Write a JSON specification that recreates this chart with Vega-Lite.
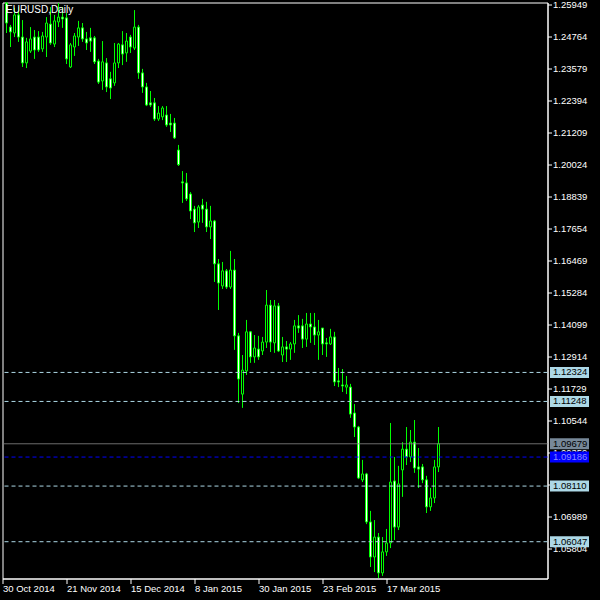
{
  "$schema": "https://vega.github.io/schema/vega-lite/v6.json",
  "width": 545,
  "height": 576,
  "autosize": {"type": "none"},
  "padding": {"left": 2.5, "top": 2.5, "right": 52.5, "bottom": 21.5},
  "background": "#000000",
  "config": {
    "view": {"stroke": "#FFFFFF", "strokeWidth": 1},
    "axis": {"labelOverlap": false, "labelBound": false, "labelFlush": false, "labelSeparation": 0, "grid": false},
    "scale": {"continuousPadding": 0}
  },
  "datasets": {
    "candles": [
      {"i":1,"open":1.2602,"high":1.2606,"low":1.2491,"close":1.2528},
      {"i":2,"open":1.2513,"high":1.2521,"low":1.2439,"close":1.2495},
      {"i":3,"open":1.2491,"high":1.2584,"low":1.2476,"close":1.2558},
      {"i":4,"open":1.2558,"high":1.2587,"low":1.2458,"close":1.2476},
      {"i":5,"open":1.2476,"high":1.2539,"low":1.2365,"close":1.2380},
      {"i":6,"open":1.2380,"high":1.2473,"low":1.2361,"close":1.2458},
      {"i":7,"open":1.2424,"high":1.2513,"low":1.2417,"close":1.2469},
      {"i":8,"open":1.2476,"high":1.2502,"low":1.2395,"close":1.2428},
      {"i":9,"open":1.2476,"high":1.2498,"low":1.2421,"close":1.2428},
      {"i":10,"open":1.2432,"high":1.2495,"low":1.2421,"close":1.2480},
      {"i":11,"open":1.2476,"high":1.2550,"low":1.2402,"close":1.2528},
      {"i":12,"open":1.2524,"high":1.2587,"low":1.2447,"close":1.2454},
      {"i":13,"open":1.2450,"high":1.2558,"low":1.2439,"close":1.2536},
      {"i":14,"open":1.2532,"high":1.2602,"low":1.2513,"close":1.2550},
      {"i":15,"open":1.2550,"high":1.2587,"low":1.2510,"close":1.2543},
      {"i":16,"open":1.2547,"high":1.2565,"low":1.2376,"close":1.2395},
      {"i":17,"open":1.2365,"high":1.2454,"low":1.2361,"close":1.2447},
      {"i":18,"open":1.2439,"high":1.2491,"low":1.2406,"close":1.2480},
      {"i":19,"open":1.2476,"high":1.2536,"low":1.2443,"close":1.2510},
      {"i":20,"open":1.2510,"high":1.2528,"low":1.2458,"close":1.2469},
      {"i":21,"open":1.2469,"high":1.2495,"low":1.2428,"close":1.2454},
      {"i":22,"open":1.2473,"high":1.2510,"low":1.2421,"close":1.2461},
      {"i":23,"open":1.2473,"high":1.2480,"low":1.2376,"close":1.2384},
      {"i":24,"open":1.2387,"high":1.2395,"low":1.2302,"close":1.2309},
      {"i":25,"open":1.2313,"high":1.2461,"low":1.2280,"close":1.2384},
      {"i":26,"open":1.2380,"high":1.2398,"low":1.2272,"close":1.2291},
      {"i":27,"open":1.2321,"high":1.2347,"low":1.2246,"close":1.2287},
      {"i":28,"open":1.2306,"high":1.2454,"low":1.2295,"close":1.2380},
      {"i":29,"open":1.2380,"high":1.2454,"low":1.2361,"close":1.2450},
      {"i":30,"open":1.2447,"high":1.2498,"low":1.2372,"close":1.2413},
      {"i":31,"open":1.2417,"high":1.2491,"low":1.2384,"close":1.2461},
      {"i":32,"open":1.2476,"high":1.2484,"low":1.2417,"close":1.2439},
      {"i":33,"open":1.2435,"high":1.2576,"low":1.2428,"close":1.2513},
      {"i":34,"open":1.2513,"high":1.2521,"low":1.2321,"close":1.2343},
      {"i":35,"open":1.2343,"high":1.2358,"low":1.2269,"close":1.2291},
      {"i":36,"open":1.2291,"high":1.2306,"low":1.2220,"close":1.2224},
      {"i":37,"open":1.2232,"high":1.2276,"low":1.2217,"close":1.2224},
      {"i":38,"open":1.2232,"high":1.2250,"low":1.2165,"close":1.2172},
      {"i":39,"open":1.2172,"high":1.2220,"low":1.2165,"close":1.2194},
      {"i":40,"open":1.2180,"high":1.2220,"low":1.2168,"close":1.2213},
      {"i":41,"open":1.2187,"high":1.2220,"low":1.2143,"close":1.2150},
      {"i":42,"open":1.2157,"high":1.2191,"low":1.2124,"close":1.2150},
      {"i":43,"open":1.2157,"high":1.2176,"low":1.2098,"close":1.2102},
      {"i":44,"open":1.2057,"high":1.2076,"low":1.1998,"close":1.2003},
      {"i":45,"open":1.1939,"high":1.1979,"low":1.1861,"close":1.1935},
      {"i":46,"open":1.1935,"high":1.1972,"low":1.1868,"close":1.1876},
      {"i":47,"open":1.1894,"high":1.1901,"low":1.1801,"close":1.1831},
      {"i":48,"open":1.1838,"high":1.1850,"low":1.1753,"close":1.1787},
      {"i":49,"open":1.1790,"high":1.1853,"low":1.1768,"close":1.1846},
      {"i":50,"open":1.1853,"high":1.1876,"low":1.1787,"close":1.1838},
      {"i":51,"open":1.1838,"high":1.1865,"low":1.1753,"close":1.1772},
      {"i":52,"open":1.1772,"high":1.1850,"low":1.1727,"close":1.1794},
      {"i":53,"open":1.1794,"high":1.1798,"low":1.1568,"close":1.1635},
      {"i":54,"open":1.1635,"high":1.1653,"low":1.1464,"close":1.1564},
      {"i":55,"open":1.1553,"high":1.1642,"low":1.1542,"close":1.1609},
      {"i":56,"open":1.1609,"high":1.1616,"low":1.1542,"close":1.1549},
      {"i":57,"open":1.1549,"high":1.1683,"low":1.1542,"close":1.1612},
      {"i":58,"open":1.1612,"high":1.1653,"low":1.1316,"close":1.1368},
      {"i":59,"open":1.1368,"high":1.1379,"low":1.1119,"close":1.1208},
      {"i":60,"open":1.1152,"high":1.1297,"low":1.1101,"close":1.1241},
      {"i":61,"open":1.1238,"high":1.1427,"low":1.1223,"close":1.1383},
      {"i":62,"open":1.1383,"high":1.1386,"low":1.1268,"close":1.1290},
      {"i":63,"open":1.1290,"high":1.1371,"low":1.1268,"close":1.1323},
      {"i":64,"open":1.1319,"high":1.1368,"low":1.1279,"close":1.1290},
      {"i":65,"open":1.1312,"high":1.1364,"low":1.1297,"close":1.1345},
      {"i":66,"open":1.1345,"high":1.1538,"low":1.1323,"close":1.1482},
      {"i":67,"open":1.1482,"high":1.1501,"low":1.1308,"close":1.1345},
      {"i":68,"open":1.1342,"high":1.1501,"low":1.1305,"close":1.1479},
      {"i":69,"open":1.1479,"high":1.1490,"low":1.1308,"close":1.1312},
      {"i":70,"open":1.1297,"high":1.1364,"low":1.1271,"close":1.1327},
      {"i":71,"open":1.1327,"high":1.1349,"low":1.1271,"close":1.1319},
      {"i":72,"open":1.1319,"high":1.1345,"low":1.1279,"close":1.1338},
      {"i":73,"open":1.1338,"high":1.1427,"low":1.1305,"close":1.1405},
      {"i":74,"open":1.1405,"high":1.1445,"low":1.1379,"close":1.1397},
      {"i":75,"open":1.1405,"high":1.1431,"low":1.1323,"close":1.1356},
      {"i":76,"open":1.1356,"high":1.1453,"low":1.1327,"close":1.1412},
      {"i":77,"open":1.1412,"high":1.1453,"low":1.1342,"close":1.1401},
      {"i":78,"open":1.1401,"high":1.1453,"low":1.1334,"close":1.1371},
      {"i":79,"open":1.1371,"high":1.1427,"low":1.1279,"close":1.1383},
      {"i":80,"open":1.1397,"high":1.1397,"low":1.1297,"close":1.1338},
      {"i":81,"open":1.1342,"high":1.1360,"low":1.1290,"close":1.1338},
      {"i":82,"open":1.1338,"high":1.1394,"low":1.1334,"close":1.1364},
      {"i":83,"open":1.1364,"high":1.1383,"low":1.1182,"close":1.1197},
      {"i":84,"open":1.1201,"high":1.1249,"low":1.1178,"close":1.1197},
      {"i":85,"open":1.1186,"high":1.1245,"low":1.1160,"close":1.1182},
      {"i":86,"open":1.1178,"high":1.1219,"low":1.1152,"close":1.1186},
      {"i":87,"open":1.1178,"high":1.1190,"low":1.1064,"close":1.1078},
      {"i":88,"open":1.1082,"high":1.1115,"low":1.0993,"close":1.1030},
      {"i":89,"open":1.1030,"high":1.1034,"low":1.0837,"close":1.0841},
      {"i":90,"open":1.0834,"high":1.0908,"low":1.0826,"close":1.0856},
      {"i":91,"open":1.0856,"high":1.0860,"low":1.0670,"close":1.0678},
      {"i":92,"open":1.0678,"high":1.0719,"low":1.0511,"close":1.0548},
      {"i":93,"open":1.0548,"high":1.0685,"low":1.0492,"close":1.0622},
      {"i":94,"open":1.0622,"high":1.0637,"low":1.0470,"close":1.0489},
      {"i":95,"open":1.0489,"high":1.0622,"low":1.0478,"close":1.0567},
      {"i":96,"open":1.0567,"high":1.0652,"low":1.0552,"close":1.0600},
      {"i":97,"open":1.0600,"high":1.1045,"low":1.0581,"close":1.0826},
      {"i":98,"open":1.0830,"high":1.0919,"low":1.0611,"close":1.0659},
      {"i":99,"open":1.0659,"high":1.0886,"low":1.0648,"close":1.0819},
      {"i":100,"open":1.0871,"high":1.0974,"low":1.0771,"close":1.0948},
      {"i":101,"open":1.0948,"high":1.1030,"low":1.0889,"close":1.0919},
      {"i":102,"open":1.0919,"high":1.1019,"low":1.0900,"close":1.0974},
      {"i":103,"open":1.0974,"high":1.1056,"low":1.0860,"close":1.0878},
      {"i":104,"open":1.0882,"high":1.0952,"low":1.0804,"close":1.0874},
      {"i":105,"open":1.0882,"high":1.0893,"low":1.0822,"close":1.0834},
      {"i":106,"open":1.0834,"high":1.0849,"low":1.0711,"close":1.0734},
      {"i":107,"open":1.0734,"high":1.0804,"low":1.0719,"close":1.0767},
      {"i":108,"open":1.0767,"high":1.0908,"low":1.0748,"close":1.0882},
      {"i":109,"open":1.0882,"high":1.1030,"low":1.0863,"close":1.09679}
    ],
    "levels": [
      {"price": 1.12324, "kind": "sr"},
      {"price": 1.11248, "kind": "sr"},
      {"price": 1.08110, "kind": "sr"},
      {"price": 1.06047, "kind": "sr"},
      {"price": 1.09679, "kind": "bid"},
      {"price": 1.09186, "kind": "ask"}
    ],
    "caption": [
      {"i": 0.875, "price": 1.25930, "label": "EURUSD,Daily"}
    ]
  },
  "layer": [
    {
      "data": {"name": "candles"},
      "mark": {"type": "rule", "color": "#00FF00", "strokeWidth": 1},
      "encoding": {
        "x": {"field": "i", "type": "quantitative",
              "scale": {"domain": [0, 136.25], "nice": false, "zero": false, "padding": 0},
              "axis": {"orient": "bottom", "values": [0, 16, 32, 48, 64, 80, 96], "tickCount": 30,
                       "labelExpr": "datum.value == 0 ? '30 Oct 2014' : datum.value == 16 ? '21 Nov 2014' : datum.value == 32 ? '15 Dec 2014' : datum.value == 48 ? '8 Jan 2015' : datum.value == 64 ? '30 Jan 2015' : datum.value == 80 ? '23 Feb 2015' : '17 Mar 2015'",
                       "grid": false, "title": null, "domainColor": "#FFFFFF", "tickColor": "#FFFFFF", "tickSize": 5,
                       "labelColor": "#FFFFFF", "labelFont": "Liberation Sans", "labelFontSize": 9.5,
                       "labelAlign": "left", "labelBaseline": "top", "labelPadding": 0,
                       "labelOverlap": false, "labelFlush": false, "labelBound": false}},
        "y": {"field": "low", "type": "quantitative",
              "scale": {"domain": [1.04683, 1.26041], "nice": false, "zero": false, "padding": 0},
              "axis": {"orient": "right", "values": [1.25949, 1.24764, 1.23579, 1.22394, 1.21209, 1.20024, 1.18839, 1.17654, 1.16469, 1.15284, 1.14099, 1.12914, 1.11729, 1.10544, 1.09359, 1.08174, 1.06989, 1.05804],
                       "tickCount": 40,
                       "format": ".5f", "grid": false, "title": null, "domainColor": "#FFFFFF", "tickColor": "#FFFFFF", "tickSize": 4,
                       "labelColor": "#FFFFFF", "labelFont": "Liberation Sans", "labelFontSize": 9.5, "labelPadding": 1,
                       "labelBaseline": "middle", "labelOverlap": false, "labelFlush": false, "labelBound": false, "labelSeparation": 0}},
        "y2": {"field": "high"}
      }
    },
    {
      "data": {"name": "candles"},
      "mark": {"type": "bar", "size": 2, "stroke": "#00FF00", "strokeWidth": 1},
      "encoding": {
        "x": {"field": "i", "type": "quantitative"},
        "y": {"field": "open", "type": "quantitative"},
        "y2": {"field": "close"},
        "fill": {"condition": {"test": "datum.close < datum.open", "value": "#FFFFFF"}, "value": "#000000"}
      }
    },
    {
      "data": {"name": "levels"},
      "mark": {"type": "rule", "strokeWidth": 1},
      "encoding": {
        "y": {"field": "price", "type": "quantitative"},
        "stroke": {"field": "kind", "type": "nominal", "scale": {"domain": ["sr", "bid", "ask"], "range": ["#ADD8E6", "#808080", "#0000FF"]}, "legend": null},
        "strokeDash": {"field": "kind", "type": "nominal", "scale": {"domain": ["sr", "bid", "ask"], "range": [[4, 3], [1, 0], [4, 3]]}, "legend": null}
      }
    },
    {
      "data": {"name": "levels"},
      "mark": {"type": "bar", "orient": "horizontal", "size": 11},
      "encoding": {
        "x": {"datum": 136.875, "type": "quantitative"},
        "x2": {"datum": 146.625},
        "y": {"field": "price", "type": "quantitative"},
        "fill": {"field": "kind", "type": "nominal", "scale": {"domain": ["sr", "bid", "ask"], "range": ["#ADD8E6", "#778899", "#0000FF"]}, "legend": null}
      }
    },
    {
      "data": {"name": "levels"},
      "mark": {"type": "text", "align": "left", "baseline": "middle", "font": "Liberation Sans", "fontSize": 9.5},
      "encoding": {
        "x": {"datum": 137.625, "type": "quantitative"},
        "y": {"field": "price", "type": "quantitative"},
        "text": {"field": "price", "type": "quantitative", "format": ".5f"},
        "color": {"field": "kind", "type": "nominal", "scale": {"domain": ["sr", "bid", "ask"], "range": ["#000000", "#000000", "#8888FF"]}, "legend": null}
      }
    },
    {
      "data": {"name": "caption"},
      "mark": {"type": "text", "align": "left", "baseline": "top", "font": "Liberation Sans", "fontSize": 10, "color": "#FFFFFF"},
      "encoding": {
        "x": {"field": "i", "type": "quantitative"},
        "y": {"field": "price", "type": "quantitative"},
        "text": {"field": "label"}
      }
    }
  ]
}
